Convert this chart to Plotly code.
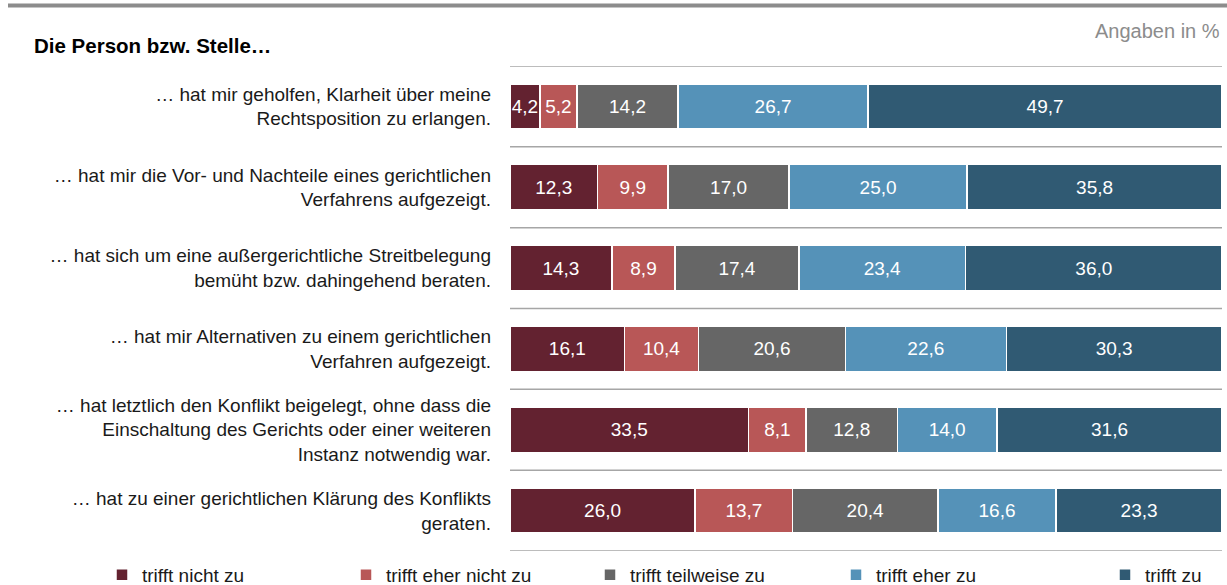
import plotly.graph_objects as go

categories = [
    "… hat mir geholfen, Klarheit über meine<br>Rechtsposition zu erlangen.",
    "… hat mir die Vor- und Nachteile eines gerichtlichen<br>Verfahrens aufgezeigt.",
    "… hat sich um eine außergerichtliche Streitbelegung<br>bemüht bzw. dahingehend beraten.",
    "… hat mir Alternativen zu einem gerichtlichen<br>Verfahren aufgezeigt.",
    "… hat letztlich den Konflikt beigelegt, ohne dass die<br>Einschaltung des Gerichts oder einer weiteren<br>Instanz notwendig war.",
    "… hat zu einer gerichtlichen Klärung des Konflikts<br>geraten.",
]
series_names = ["trifft nicht zu", "trifft eher nicht zu", "trifft teilweise zu", "trifft eher zu", "trifft zu"]
trifft_nicht_zu = [4.2, 12.3, 14.3, 16.1, 33.5, 26.0]
trifft_eher_nicht_zu = [5.2, 9.9, 8.9, 10.4, 8.1, 13.7]
trifft_teilweise_zu = [14.2, 17.0, 17.4, 20.6, 12.8, 20.4]
trifft_eher_zu = [26.7, 25.0, 23.4, 22.6, 14.0, 16.6]
trifft_zu = [49.7, 35.8, 36.0, 30.3, 31.6, 23.3]
series_values = [trifft_nicht_zu, trifft_eher_nicht_zu, trifft_teilweise_zu, trifft_eher_zu, trifft_zu]
colors = ["#632230", "#b85757", "#666666", "#5592b8", "#305a73"]
legend_marker_x = [121, 365, 609, 855, 1124]

W, H = 1227, 585
L, R, T, B = 510, 5, 66, 31
pw = W - L - R
ph = H - T - B

idx = list(range(len(categories)))
fig = go.Figure()
legend_layout = {}
for k, (name, vals, col, lx) in enumerate(zip(series_names, series_values, colors, legend_marker_x)):
    lname = "legend" if k == 0 else f"legend{k + 1}"
    fig.add_trace(go.Bar(
        y=idx, x=vals, name=name, orientation="h", legend=lname,
        marker=dict(color=col, line=dict(color="white", width=1.5)),
        text=[f"{v:.1f}".replace(".", ",") for v in vals],
        textposition="inside", insidetextanchor="middle", textangle=0,
        textfont=dict(color="white", size=19),
        width=0.56,
    ))
    legend_layout[lname] = dict(
        orientation="h", xref="container", yref="container",
        x=(lx - 19) / W, xanchor="left", y=1 - 575 / H, yanchor="middle",
        font=dict(size=19, color="#1a1a1a"), bgcolor="rgba(0,0,0,0)",
        itemwidth=30,
    )

shapes = []
for i in range(len(categories) + 1):
    shapes.append(dict(type="line", xref="paper", yref="y", x0=0, x1=1,
                       y0=i - 0.5, y1=i - 0.5,
                       line=dict(color="#a6a6a6", width=1.5)))
# top thick rule
shapes.append(dict(type="line", xref="paper", yref="paper",
                   x0=(8 - L) / pw, x1=(W - L) / pw,
                   y0=1 + (T - 5) / ph, y1=1 + (T - 5) / ph,
                   line=dict(color="#8c8c8c", width=4)))

fig.update_layout(
    width=W, height=H,
    margin=dict(l=L, r=R, t=T, b=B),
    barmode="stack",
    plot_bgcolor="white", paper_bgcolor="white",
    font=dict(family="Liberation Sans, Arial, sans-serif", color="#1a1a1a"),
    uniformtext=dict(minsize=19, mode="show"),
    shapes=shapes,
    title=dict(text="<b>Die Person bzw. Stelle…</b>", xref="container", yref="container",
               x=34 / W, xanchor="left", y=1 - 46 / H, yanchor="middle",
               font=dict(size=20.5, color="#000000")),
    annotations=[dict(text="Angaben in %", xref="paper", yref="paper",
                      x=1, xanchor="right", y=1 + (T - 31) / ph, yanchor="middle",
                      showarrow=False, font=dict(size=20, color="#8c8c8c"))],
    showlegend=True,
    **legend_layout,
)
fig.update_xaxes(range=[0, 100], visible=False, fixedrange=True)
fig.update_yaxes(tickvals=idx, ticktext=categories, range=[len(categories) - 0.5, -0.5],
                 showgrid=False, zeroline=False, ticks="", ticklabelstandoff=18,
                 tickfont=dict(size=19, color="#1a1a1a"), fixedrange=True)

fig.write_html("out.html", config={"displayModeBar": False},
               post_script="document.body.style.margin='0';")
